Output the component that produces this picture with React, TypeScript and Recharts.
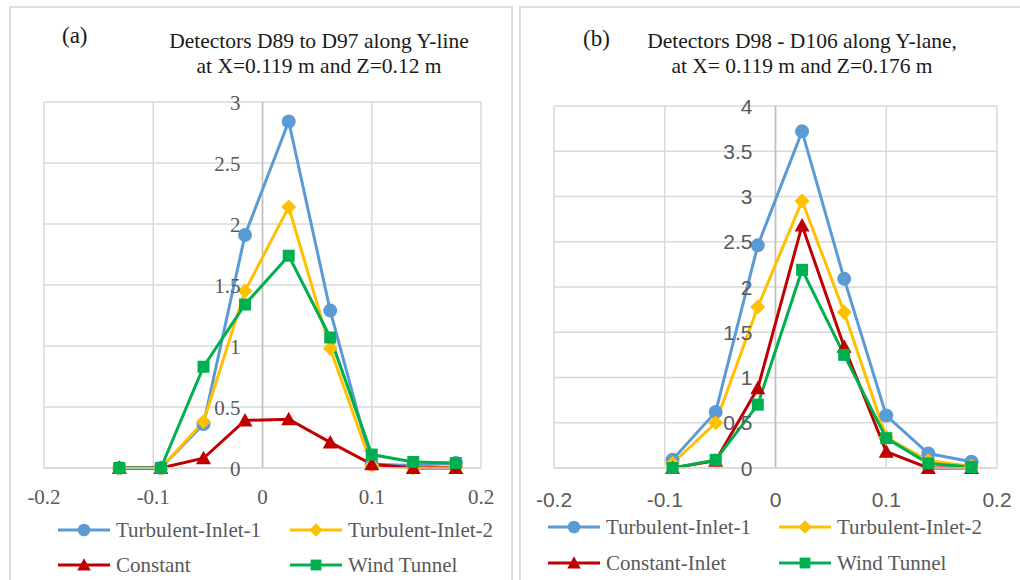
import React from 'react';
import { CartesianGrid, Line, LineChart, ReferenceLine, XAxis, YAxis } from 'recharts';

// Detector positions along Y (m)
const xLeft = [-0.131, -0.093, -0.054, -0.016, 0.024, 0.062, 0.1, 0.138, 0.177];
const xRight = [-0.093, -0.054, -0.016, 0.024, 0.062, 0.1, 0.138, 0.177];

// Panel (a): D89 - D97
const leftTI1 = [0, 0, 0.36, 1.91, 2.84, 1.29, 0.03, 0.02, 0.04];
const leftTI2 = [0, 0, 0.38, 1.45, 2.14, 0.98, 0.02, 0, 0.01];
const leftConst = [0, 0, 0.08, 0.39, 0.4, 0.21, 0.03, 0, 0];
const leftWind = [0, 0, 0.83, 1.34, 1.74, 1.07, 0.11, 0.05, 0.04];

// Panel (b): D98 - D106
const rightTI1 = [0.09, 0.62, 2.46, 3.72, 2.09, 0.58, 0.16, 0.07];
const rightTI2 = [0.05, 0.5, 1.78, 2.95, 1.72, 0.34, 0.08, 0.02];
const rightConst = [0, 0.08, 0.88, 2.68, 1.34, 0.18, 0, 0];
const rightWind = [0, 0.09, 0.7, 2.19, 1.25, 0.33, 0.05, 0.01];

const xTicks = [-0.2, -0.1, 0, 0.1, 0.2];
const leftYTicks = [0, 0.5, 1, 1.5, 2, 2.5, 3];
const rightYTicks = [0, 0.5, 1, 1.5, 2, 2.5, 3, 3.5, 4];

const C = {
  blue: '#5B9BD5',
  yellow: '#FFC000',
  red: '#C00000',
  green: '#00B050',
  grid: '#D9D9D9',
  zero: '#BFBFBF',
  text: '#595959',
};

const SERIF = '"Liberation Serif", "Times New Roman", serif';
const SANS = '"Liberation Sans", Arial, sans-serif';

type Shape = 'circle' | 'diamond' | 'triangle' | 'square';

function Marker({ cx, cy, shape, color, s = 1 }: { cx: number; cy: number; shape: Shape; color: string; s?: number }) {
  if (cx == null || cy == null) return null;
  if (shape === 'circle') return <circle cx={cx} cy={cy} r={7 * s} fill={color} />;
  if (shape === 'diamond') {
    const r = 7.5 * s;
    return <polygon points={`${cx},${cy - r} ${cx + r},${cy} ${cx},${cy + r} ${cx - r},${cy}`} fill={color} />;
  }
  if (shape === 'triangle') {
    const r = 7.5 * s;
    return <polygon points={`${cx},${cy - r} ${cx + r},${cy + r * 0.8} ${cx - r},${cy + r * 0.8}`} fill={color} />;
  }
  const h = 6 * s;
  return <rect x={cx - h} y={cy - h} width={2 * h} height={2 * h} fill={color} />;
}

type SeriesDef = { key: string; name: string; color: string; shape: Shape };

function Panel({
  left,
  xs,
  series,
  values,
  yTicks,
  yMax,
  marginTop,
  marginRight,
  yFont,
  xFont,
  xLabelOffset,
  yGap,
}: {
  left: number;
  xs: number[];
  series: SeriesDef[];
  values: number[][];
  yTicks: number[];
  yMax: number;
  marginTop: number;
  marginRight: number;
  yFont: string;
  xFont: string;
  xLabelOffset: number;
  yGap: number;
}) {
  const W = 510;
  const H = 580;
  const plotLeft = 44;
  const yAxisW = 40;
  const plotW = W - plotLeft - marginRight;
  const rows = xs.map((x, i) => {
    const r: Record<string, number> = { x };
    series.forEach((s, k) => {
      r[s.key] = values[k][i];
    });
    return r;
  });

  const YTick = (p: any) => (
    <text
      x={p.x + plotW / 2 - yGap}
      y={p.y}
      dy="0.36em"
      textAnchor="end"
      fontFamily={yFont}
      fontSize={21}
      fill={C.text}
    >
      {p.payload.value}
    </text>
  );
  const XTick = (p: any) => (
    <text
      x={p.x}
      y={p.y + xLabelOffset}
      dy="0.36em"
      textAnchor="middle"
      fontFamily={xFont}
      fontSize={21}
      fill={C.text}
    >
      {p.payload.value}
    </text>
  );

  return (
    <div style={{ position: 'absolute', left, top: 0 }}>
      <LineChart
        width={W}
        height={H}
        data={rows}
        margin={{ top: marginTop, right: marginRight, left: plotLeft - yAxisW, bottom: 72 }}
      >
        <CartesianGrid stroke={C.grid} strokeWidth={1.5} />
        <XAxis
          type="number"
          dataKey="x"
          domain={[-0.2, 0.2]}
          ticks={xTicks}
          height={40}
          tickLine={false}
          tickSize={0}
          tickMargin={0}
          axisLine={{ stroke: C.grid, strokeWidth: 1.5 }}
          tick={XTick}
        />
        <YAxis
          type="number"
          domain={[0, yMax]}
          ticks={yTicks}
          width={yAxisW}
          axisLine={false}
          tickLine={false}
          tickSize={0}
          tickMargin={0}
          tick={YTick}
        />
        <ReferenceLine x={0} stroke={C.zero} strokeWidth={1.5} />
        {series.map((s) => (
          <Line
            key={s.key}
            dataKey={s.key}
            name={s.name}
            stroke={s.color}
            strokeWidth={3}
            isAnimationActive={false}
            dot={(d: any) => <Marker key={`${s.key}-${d.index}`} cx={d.cx} cy={d.cy} shape={s.shape} color={s.color} />}
            activeDot={false}
          />
        ))}
      </LineChart>
    </div>
  );
}

function LegendItem({ x, y, s }: { x: number; y: number; s: SeriesDef }) {
  return (
    <div style={{ position: 'absolute', left: x, top: y - 16, height: 32, display: 'flex', alignItems: 'center' }}>
      <svg width={54} height={32} style={{ display: 'block' }}>
        <line x1={1} y1={16} x2={53} y2={16} stroke={s.color} strokeWidth={3} />
        <Marker cx={27} cy={16} shape={s.shape} color={s.color} s={0.9} />
      </svg>
      <span style={{ fontFamily: SERIF, fontSize: 21, color: C.text, marginLeft: 5, whiteSpace: 'nowrap' }}>{s.name}</span>
    </div>
  );
}

const leftSeries: SeriesDef[] = [
  { key: 'ti1', name: 'Turbulent-Inlet-1', color: C.blue, shape: 'circle' },
  { key: 'ti2', name: 'Turbulent-Inlet-2', color: C.yellow, shape: 'diamond' },
  { key: 'con', name: 'Constant', color: C.red, shape: 'triangle' },
  { key: 'wt', name: 'Wind Tunnel', color: C.green, shape: 'square' },
];
const rightSeries: SeriesDef[] = [
  { key: 'ti1', name: 'Turbulent-Inlet-1', color: C.blue, shape: 'circle' },
  { key: 'ti2', name: 'Turbulent-Inlet-2', color: C.yellow, shape: 'diamond' },
  { key: 'con', name: 'Constant-Inlet', color: C.red, shape: 'triangle' },
  { key: 'wt', name: 'Wind Tunnel', color: C.green, shape: 'square' },
];

const titleStyle: React.CSSProperties = {
  position: 'absolute',
  fontFamily: SERIF,
  fontSize: 21.5,
  lineHeight: '25px',
  color: '#1a1a1a',
  textAlign: 'center',
  whiteSpace: 'nowrap',
  transform: 'translateX(-50%)',
};

export default function App() {
  return (
    <div style={{ position: 'absolute', left: 0, top: 0, width: 1020, height: 580, background: '#fff', overflow: 'hidden' }}>
      {/* panel frames */}
      <div style={{ position: 'absolute', left: 9, top: 6, width: 504, height: 600, border: '2px solid #DDDDDD', boxSizing: 'border-box' }} />
      <div style={{ position: 'absolute', left: 519, top: 6, width: 520, height: 600, border: '2px solid #DDDDDD', boxSizing: 'border-box' }} />

      <Panel
        left={0}
        xs={xLeft}
        series={leftSeries}
        values={[leftTI1, leftTI2, leftConst, leftWind]}
        yTicks={leftYTicks}
        yMax={3}
        marginTop={102}
        marginRight={29}
        yFont={SERIF}
        xFont={SERIF}
        xLabelOffset={28}
        yGap={22}
      />
      <Panel
        left={510}
        xs={xRight}
        series={rightSeries}
        values={[rightTI1, rightTI2, rightConst, rightWind]}
        yTicks={rightYTicks}
        yMax={4}
        marginTop={106}
        marginRight={23}
        yFont={SANS}
        xFont={SANS}
        xLabelOffset={31}
        yGap={23}
      />

      {/* titles */}
      <div style={{ position: 'absolute', left: 62, top: 23, fontFamily: SERIF, fontSize: 23, color: '#1a1a1a' }}>(a)</div>
      <div style={{ ...titleStyle, left: 319, top: 29 }}>
        Detectors D89 to D97 along Y-line
        <br />
        at X=0.119 m and Z=0.12 m
      </div>
      <div style={{ position: 'absolute', left: 583, top: 26, fontFamily: SERIF, fontSize: 23, color: '#1a1a1a' }}>(b)</div>
      <div style={{ ...titleStyle, left: 802, top: 29 }}>
        Detectors D98 - D106 along Y-lane,
        <br />
        at X= 0.119 m and Z=0.176 m
      </div>

      {/* legends */}
      <LegendItem x={57} y={530} s={leftSeries[0]} />
      <LegendItem x={289} y={530} s={leftSeries[1]} />
      <LegendItem x={57} y={565} s={leftSeries[2]} />
      <LegendItem x={289} y={565} s={leftSeries[3]} />

      <LegendItem x={547} y={527} s={rightSeries[0]} />
      <LegendItem x={778} y={527} s={rightSeries[1]} />
      <LegendItem x={547} y={563} s={rightSeries[2]} />
      <LegendItem x={778} y={563} s={rightSeries[3]} />
    </div>
  );
}
